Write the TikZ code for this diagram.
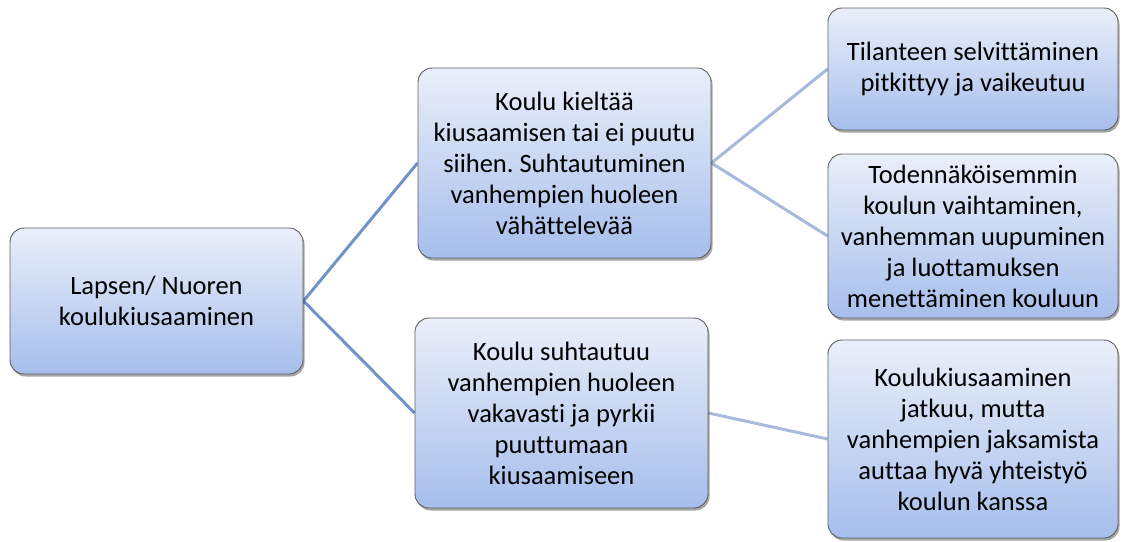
\documentclass[tikz,border=0pt]{standalone}
\usepackage{fontspec}
\setmainfont{Carlito}[Ligatures={NoCommon}]
\frenchspacing
\usetikzlibrary{shadows,backgrounds}
\definecolor{boxtop}{HTML}{EAEFF9}
\definecolor{boxbot}{HTML}{A6BEEC}
\definecolor{linkdark}{HTML}{7293C9}
\definecolor{linklight}{HTML}{A7B9DC}
\definecolor{boxedge}{HTML}{5F5F5F}
\begin{document}
\begin{tikzpicture}[x=1pt,y=-1pt,
  box/.style={draw=boxedge, line width=0.9pt, rounded corners=14pt,
    top color=boxtop, bottom color=boxbot, align=center, inner sep=0pt,
    font=\fontsize{26.5}{31}\selectfont,
    drop shadow={opacity=0.35, shadow xshift=1.5pt, shadow yshift=-2.5pt, fill=black}},
  link/.style={line width=3pt, color=linkdark},
  linkb/.style={line width=3pt, color=linklight}]
\useasboundingbox (0,0) rectangle (1123,541);
\node[box, minimum width=293pt, minimum height=146pt] (root) at (156.5,301) {Lapsen/ Nuoren\\koulukiusaaminen};
\node[box, minimum width=293pt, minimum height=190pt] (mid1) at (564.5,163) {Koulu kieltää\\kiusaamisen tai ei puutu\\siihen.\ Suhtautuminen\\vanhempien huoleen\\vähättelevää};
\node[box, minimum width=293pt, minimum height=190pt] (mid2) at (561.5,413) {Koulu suhtautuu\\vanhempien huoleen\\vakavasti ja pyrkii\\puuttumaan\\kiusaamiseen};
\node[box, minimum width=290pt, minimum height=122pt] (r1) at (973,69) {Tilanteen selvittäminen\\pitkittyy ja vaikeutuu};
\node[box, minimum width=290pt, minimum height=164pt] (r2) at (973,236) {Todennäköisemmin\\koulun vaihtaminen,\\vanhemman uupuminen\\ja luottamuksen\\menettäminen kouluun};
\node[box, minimum width=290pt, minimum height=198pt] (r3) at (973,439) {Koulukiusaaminen\\jatkuu, mutta\\vanhempien jaksamista\\auttaa hyvä yhteistyö\\koulun kanssa};
\begin{scope}[on background layer]
\draw[link] (root.east) -- (mid1.west);
\draw[link] (root.east) -- (mid2.west);
\draw[linkb] (mid1.east) -- (r1.west);
\draw[linkb] (mid1.east) -- (r2.west);
\draw[linkb] (mid2.east) -- (r3.west);
\end{scope}
\end{tikzpicture}
\end{document}
